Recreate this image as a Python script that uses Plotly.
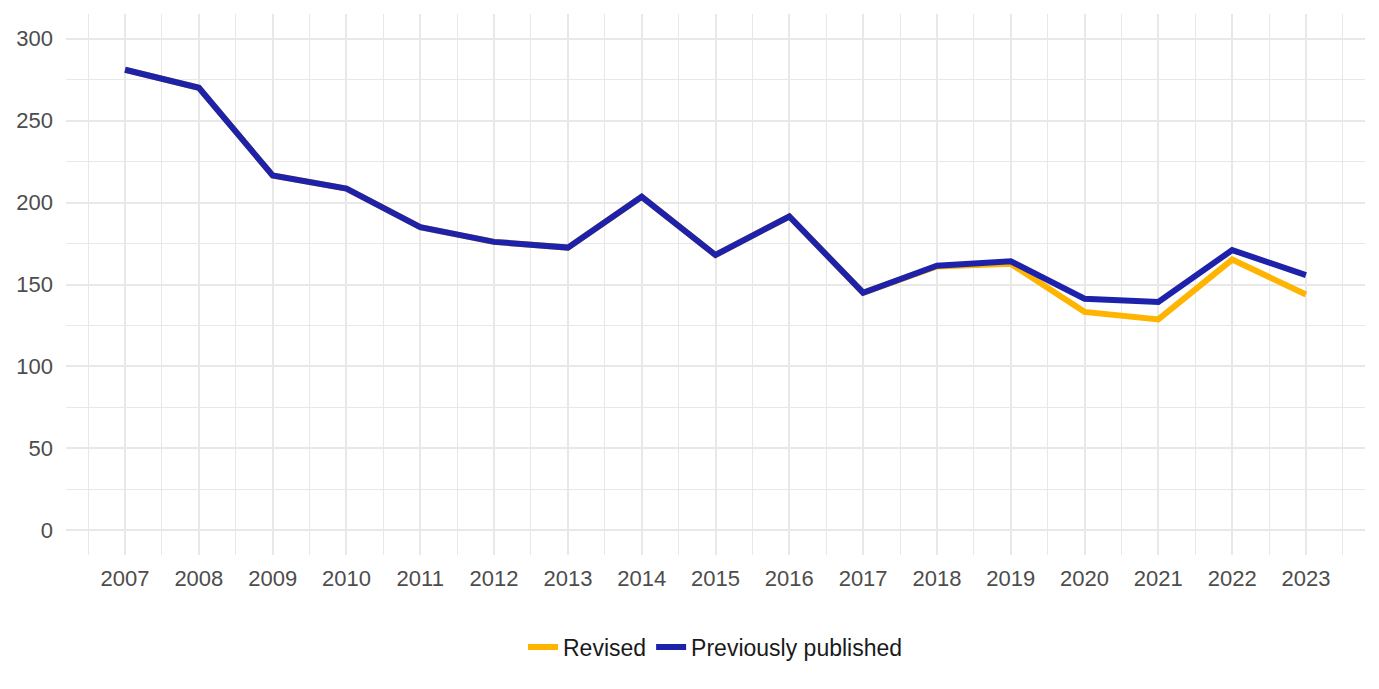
import plotly.graph_objects as go

years = list(range(2007, 2024))
previously_published = [281, 270, 216.5, 208.5, 185, 176, 172.5, 203.5, 168, 191.5, 145, 161.5, 164.2, 141.3, 139.4, 171, 155.7]
revised = [281, 270, 216.5, 208.5, 185, 176, 172.5, 203.5, 168, 191.5, 145, 161, 162.6, 133.3, 128.7, 165.2, 143.9]

y_ticks = [0, 50, 100, 150, 200, 250, 300]

fig = go.Figure()
fig.add_trace(go.Scatter(x=years, y=revised, mode="lines", name="Revised",
                         line=dict(color="#FFB400", width=6)))
fig.add_trace(go.Scatter(x=years, y=previously_published, mode="lines", name="Previously published",
                         line=dict(color="#1E22AA", width=6)))

grid = "#e8e8e8"
fig.update_layout(
    width=1379, height=689,
    paper_bgcolor="white", plot_bgcolor="white",
    margin=dict(l=58, r=22, t=6, b=142),
    font=dict(family="Liberation Sans, Arial, sans-serif", size=22, color="#4d4d4d"),
    showlegend=True,
    legend=dict(orientation="h", x=0.5, xanchor="center", y=0.0726, yref="container", yanchor="middle",
                font=dict(size=23, color="#1a1a1a"), itemwidth=30, traceorder="normal"),
    xaxis=dict(range=[2006.2, 2023.8], tickmode="array", tickvals=years, ticktext=[str(y) for y in years],
               showgrid=True, gridcolor=grid, gridwidth=1.8, zeroline=False, showline=False,
               ticks="", ticklabelstandoff=8,
               minor=dict(dtick=0.5, tick0=2006.5, showgrid=True, gridcolor=grid, gridwidth=1.3)),
    yaxis=dict(range=[-15, 315], tickmode="array", tickvals=y_ticks,
               showgrid=True, gridcolor=grid, gridwidth=1.8, zeroline=False, showline=False,
               ticks="", ticklabelstandoff=12,
               minor=dict(dtick=25, tick0=0, showgrid=True, gridcolor=grid, gridwidth=1.3)),
)

fig.write_html("out.html")
